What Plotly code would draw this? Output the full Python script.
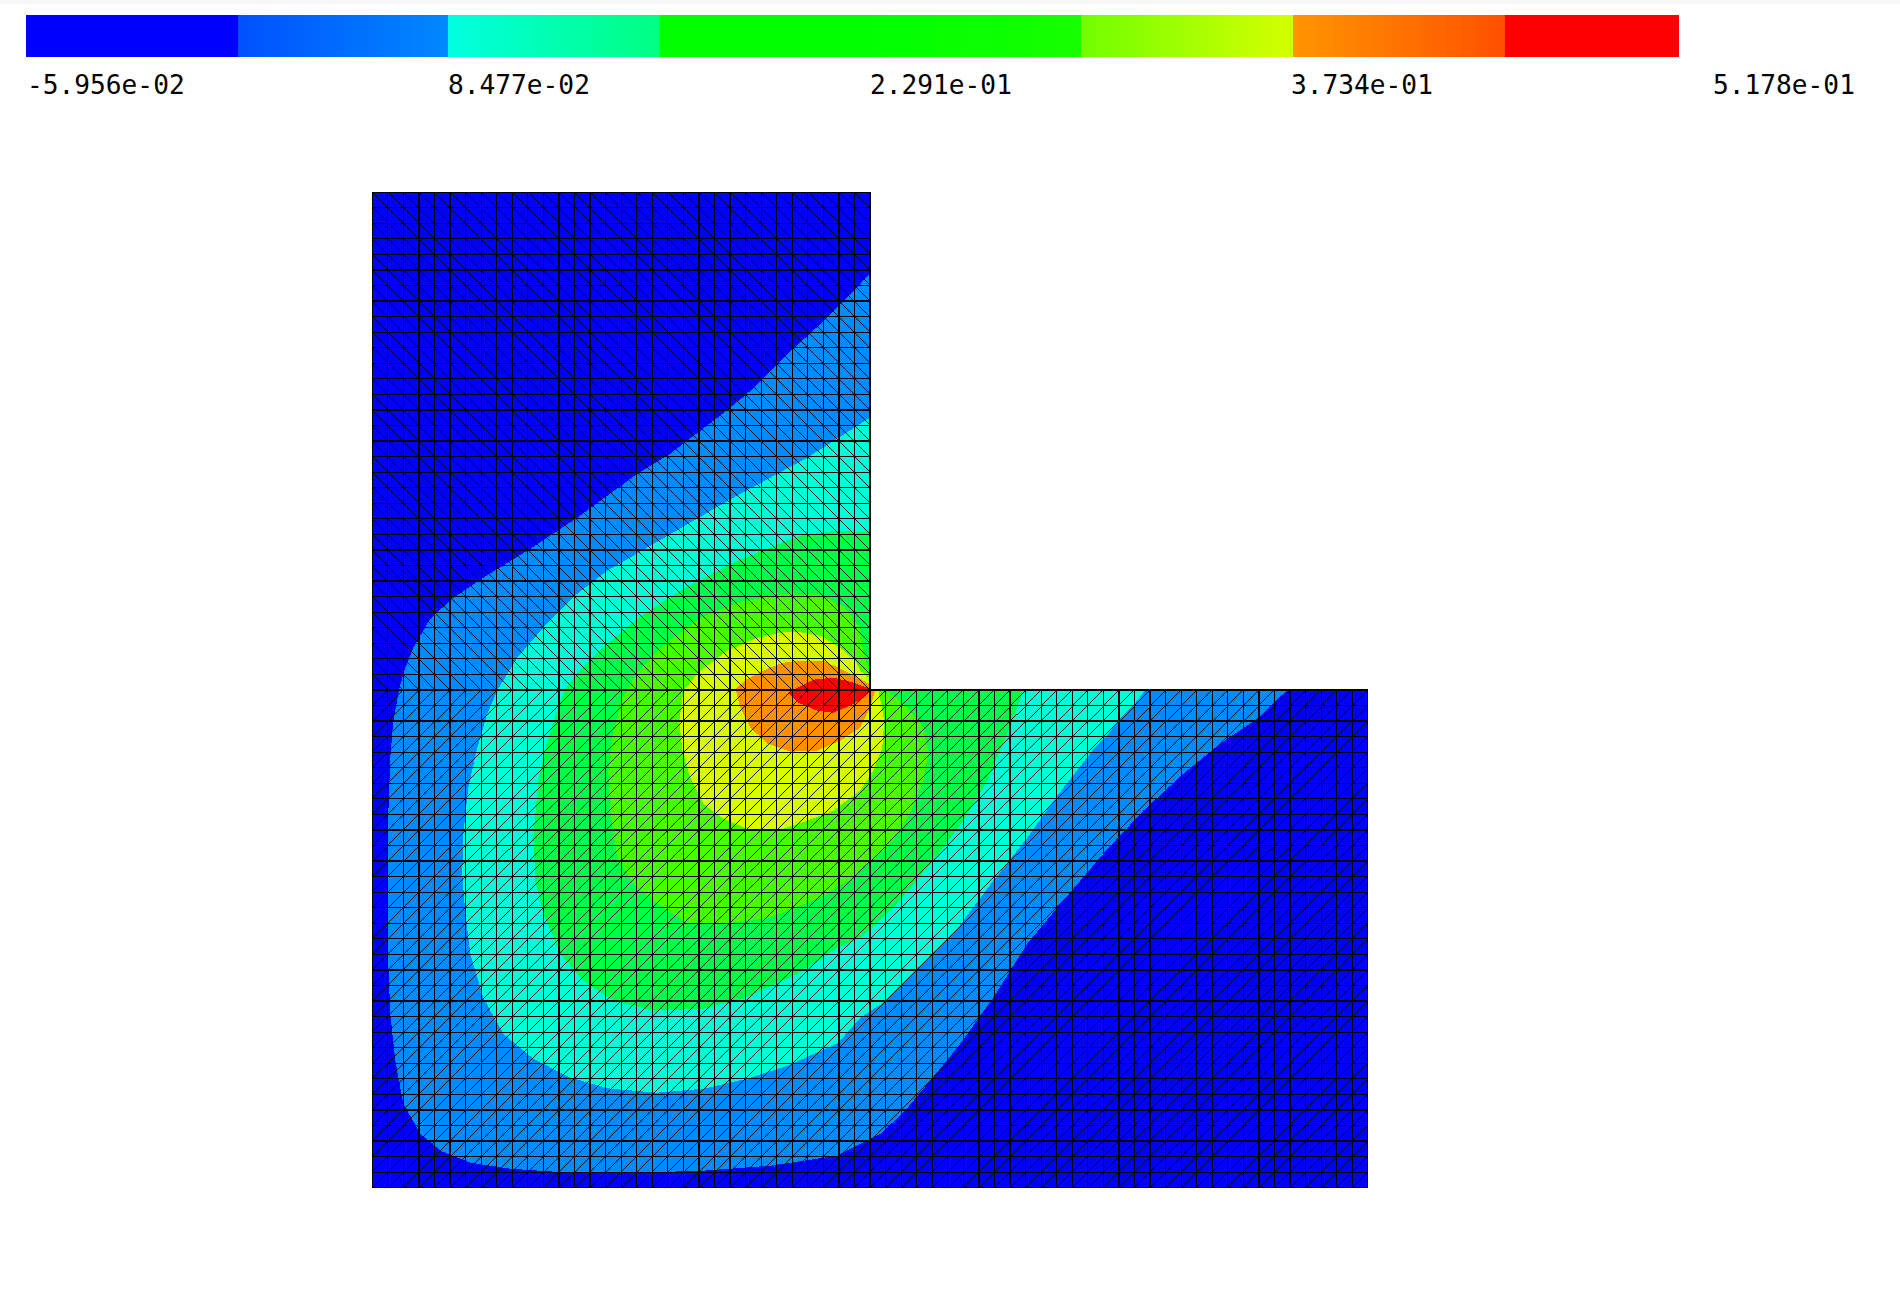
"""Pressure field on an L-shaped mesh with its colour bar"""
import numpy as np
import plotly.graph_objects as go

# colour bar
TICK_VALUES = [-5.956e-02, 8.477e-02, 2.291e-01, 3.734e-01, 5.178e-01]
TICK_LABELS = ["-5.956e-02", "8.477e-02", "2.291e-01", "3.734e-01", "5.178e-01"]
BAR_END = 5.065e-01
BAR_LEVEL_STEP = 7.233e-02
BAR_SEGMENTS = [
    ("#0000ff", "#0000ff"),
    ("#0050ff", "#0088ff"),
    ("#00ffe0", "#00ff80"),
    ("#00ff00", "#00ff00"),
    ("#00ff00", "#16ff00"),
    ("#70ff00", "#d5ff00"),
    ("#ff9500", "#ff5000"),
    ("#ff0000", "#ff0000"),
]

# mesh, side of the big square in drawing units
MESH_SIZE = 995.5
HALF_CELLS = 32

# filled contours, lowest level first (region above each level)
LEVEL_COLORS = ["#008cff", "#00ffd7", "#00ff48", "#48ff00", "#d7ff00", "#ff9000", "#ff0000"]
BASE_COLOR = "#0000ff"

LEVEL1_X = [497.75, 455, 421, 375, 345, 298, 265, 205, 155, 111, 81, 58, 41, 33, 27, 21, 18, 16, 15, 15, 18, 23, 31,
            48, 68, 98, 138, 198, 265, 331, 398, 465, 488, 508, 531, 558, 588, 621, 655, 685, 731, 771, 811, 848,
            885, 915, 497.75]
LEVEL1_Y = [914, 870, 839, 794, 770, 734, 714, 670, 637, 610, 590, 569, 540, 520, 499, 467, 430, 374, 307, 247, 174,
            127, 84, 54, 37, 25, 19, 15, 15, 17, 22, 32, 44, 54, 75, 107, 144, 190, 244, 280, 334, 377, 414, 444,
            469, 497.75, 497.75]

LEVEL2_X = [497.75, 435, 361, 295, 235, 205, 171, 145, 126, 115, 105, 96, 91, 90, 93, 98, 111, 131, 161, 198, 238,
            285, 331, 375, 415, 465, 488, 511, 545, 585, 621, 655, 685, 720, 733, 746, 761, 773, 497.75]
LEVEL2_Y = [770, 730, 690, 652, 617, 594, 560, 530, 499, 474, 440, 400, 354, 314, 274, 234, 190, 154, 129, 110, 99,
            95, 99, 109, 122, 144, 170, 185, 220, 259, 307, 350, 392, 437, 450, 467, 482, 497.75, 497.75]

LEVEL3_X = [497.75, 465, 428, 365, 308, 265, 231, 205, 193, 185, 175, 166, 161, 163, 171, 188, 211, 241, 281, 331,
            371, 425, 465, 488, 521, 561, 591, 615, 635, 643, 651, 497.75]
LEVEL3_Y = [655, 657, 652, 627, 597, 569, 540, 514, 499, 477, 447, 407, 350, 307, 274, 234, 207, 187, 177, 179,
            189, 214, 240, 250, 280, 327, 367, 407, 454, 477, 497.75, 497.75]

LEVEL4_X = [497.75, 491, 488, 471, 445, 411, 365, 328, 288, 265, 255, 250, 241, 236, 238, 245, 261, 285, 315, 351,
            398, 448, 481, 488, 501, 521, 538, 551, 556, 551, 531, 513, 497.75]
LEVEL4_Y = [514, 537, 560, 582, 594, 594, 585, 570, 540, 515, 499, 490, 457, 417, 374, 330, 304, 284, 265, 264,
            270, 290, 310, 319, 329, 347, 375, 407, 435, 462, 484, 497.75, 497.75]

LEVEL5_X = [497.75, 488, 483, 468, 448, 425, 408, 385, 355, 328, 311, 307, 310, 318, 331, 351, 375, 408, 435, 461,
            488, 501, 510, 512, 506, 497.75]
LEVEL5_Y = [509, 517, 527, 540, 552, 556, 555, 550, 537, 517, 497, 467, 437, 410, 384, 369, 359, 358, 367, 377,
            397, 417, 440, 467, 497.75, 497.75]

LEVEL6_X = [497.75, 488, 468, 451, 428, 411, 395, 375, 363, 368, 378, 395, 418, 445, 468, 488, 498, 503, 497.75]
LEVEL6_Y = [503, 509, 519, 527, 527, 525, 519, 509, 499, 480, 460, 444, 436, 437, 447, 460, 480, 497.75, 497.75]

LEVEL7_X = [497.75, 481, 461, 441, 416, 426, 445, 461, 478, 491, 500]
LEVEL7_Y = [499, 505, 510, 508, 495, 485, 477, 475, 482, 490, 497.75]

LEVELS = [
    (LEVEL1_X, LEVEL1_Y),
    (LEVEL2_X, LEVEL2_Y),
    (LEVEL3_X, LEVEL3_Y),
    (LEVEL4_X, LEVEL4_Y),
    (LEVEL5_X, LEVEL5_Y),
    (LEVEL6_X, LEVEL6_Y),
    (LEVEL7_X, LEVEL7_Y),
]


def mesh_lines():
    """Edges of the triangulated L: upper block falls to the right, lower blocks rise"""
    h = MESH_SIZE / (2 * HALF_CELLS)
    n = 2 * HALF_CELLS
    grid_x, grid_y, diag_x, diag_y = [], [], [], []

    def seg(xs, ys, i0, j0, i1, j1):
        xs.extend([i0 * h, i1 * h, None])
        ys.extend([j0 * h, j1 * h, None])

    for i in range(n + 1):
        seg(grid_x, grid_y, i, 0, i, n if i <= HALF_CELLS else HALF_CELLS)
    for j in range(n + 1):
        seg(grid_x, grid_y, 0, j, n if j <= HALF_CELLS else HALF_CELLS, j)
    for i in range(n):
        for j in range(n):
            if i >= HALF_CELLS and j >= HALF_CELLS:
                continue
            if j >= HALF_CELLS:
                seg(diag_x, diag_y, i, j + 1, i + 1, j)
            else:
                seg(diag_x, diag_y, i, j, i + 1, j + 1)
    return grid_x, grid_y, diag_x, diag_y


def bar_colorscale():
    """Piecewise colour scale: a jump at each level of the bar"""
    v0 = TICK_VALUES[0]
    scale = []
    for k, (left, right) in enumerate(BAR_SEGMENTS):
        lo = k * BAR_LEVEL_STEP / (BAR_END - v0)
        hi = min((k + 1) * BAR_LEVEL_STEP / (BAR_END - v0), 1.0)
        scale.append([lo, left])
        scale.append([hi, right])
    return scale


fig = go.Figure()

s = MESH_SIZE
mid = s / 2
fig.add_trace(go.Scatter(
    x=[0, mid, mid, s, s, 0, 0], y=[s, s, mid, mid, 0, 0, s],
    mode='lines', fill='toself', fillcolor=BASE_COLOR, line=dict(width=0), hoverinfo='skip'
))

for (lx, ly), color in zip(LEVELS, LEVEL_COLORS):
    fig.add_trace(go.Scatter(
        x=lx, y=ly, mode='lines', fill='toself', fillcolor=color,
        line=dict(width=0), hoverinfo='skip'
    ))

gx, gy, dx, dy = mesh_lines()
fig.add_trace(go.Scatter(
    x=dx, y=dy, mode='lines', line=dict(color='black', width=0.9), hoverinfo='skip'
))
fig.add_trace(go.Scatter(
    x=gx, y=gy, mode='lines', line=dict(color='black', width=1.25), hoverinfo='skip'
))

bar_edges = np.linspace(TICK_VALUES[0], BAR_END, 828)
bar_mid = (bar_edges[:-1] + bar_edges[1:]) / 2
fig.add_trace(go.Heatmap(
    x=bar_edges, y=[0, 1], z=[bar_mid],
    zmin=TICK_VALUES[0], zmax=BAR_END,
    colorscale=bar_colorscale(), showscale=False, hoverinfo='skip',
    xaxis='x2', yaxis='y2'
))

# value axis of the bar: first tick 26 px from the left edge, last tick at 1712 px
per_px = (TICK_VALUES[-1] - TICK_VALUES[0]) / (1712 - 26)
x2_range = [TICK_VALUES[0] - 26 * per_px, TICK_VALUES[0] + (1900 - 26) * per_px]

for value, label in zip(TICK_VALUES, TICK_LABELS):
    fig.add_annotation(
        x=value, xref='x2', y=1 - 85 / 1300, yref='paper',
        text=label, showarrow=False, xanchor='left', yanchor='middle',
        borderpad=0, font=dict(family='DejaVu Sans Mono', size=26.2, color='black')
    )

fig.add_shape(
    type='rect', xref='paper', yref='paper', x0=0, x1=1, y0=1 - 4 / 1300, y1=1,
    fillcolor='#f8f8f8', line=dict(width=0), layer='below'
)

fig.update_layout(
    width=1900,
    height=1300,
    margin=dict(l=0, r=0, t=0, b=0),
    paper_bgcolor='white',
    plot_bgcolor='white',
    showlegend=False,
    xaxis=dict(visible=False, range=[-372.3, 1527.7], domain=[0, 1]),
    yaxis=dict(visible=False, range=[-112.3, 1187.7], domain=[0, 1]),
    xaxis2=dict(visible=False, range=x2_range, domain=[0, 1], anchor='y2'),
    yaxis2=dict(visible=False, range=[0, 1], domain=[1 - 57 / 1300, 1 - 15 / 1300], anchor='x2'),
)

# the reference is an aliased raster, so switch off edge smoothing
POST = """
document.body.style.margin = '0';
document.querySelectorAll('.scatterlayer path').forEach(function (p) {
    p.style.shapeRendering = 'crispEdges';
});
"""
fig.write_html("out.html", post_script=POST, config={'displayModeBar': False})
